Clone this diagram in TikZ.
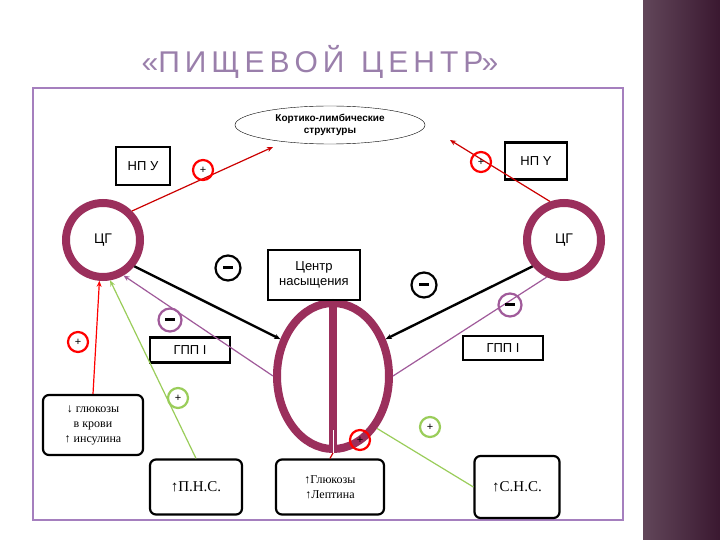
\documentclass[tikz,border=0pt]{standalone}
\usepackage{fontspec}
\setmainfont{Liberation Sans}
\newfontfamily\serifF{Liberation Serif}
\usetikzlibrary{shapes.geometric,arrows.meta}
\definecolor{maroon}{HTML}{9B2F5C}
\definecolor{frame}{HTML}{A57FBE}
\definecolor{sidebar}{HTML}{3A1830}
\definecolor{gline}{HTML}{9ACD5A}
\definecolor{pline}{HTML}{A05A9A}
\newcommand{\mybar}{\rule[0.3ex]{10pt}{3pt}}
\begin{document}
\begin{tikzpicture}[x=1pt,y=-1pt,
  box/.style={draw,line width=2.2pt,inner sep=0pt,font=\fontsize{13}{15}\selectfont},
  rbox/.style={draw,line width=2.2pt,rounded corners=6pt,align=center,inner sep=0pt,font=\serifF\fontsize{12}{15}\selectfont},
  ring/.style={circle,draw=maroon,line width=8pt,minimum size=74pt,font=\fontsize{14}{16}\selectfont},
  sign/.style={circle,draw,line width=2.2pt,minimum size=20pt,inner sep=0pt,font=\fontsize{11}{11}\selectfont},
  rpos/.style={sign,draw=red},
  gpos/.style={sign,draw=gline},
  neg/.style={sign,draw=black,minimum size=25pt},
  pneg/.style={sign,draw=pline,minimum size=23pt},
  arr/.style={-{Stealth[length=6pt,width=5pt]}}]
\useasboundingbox (0,0) rectangle (720,540);
\fill[white] (0,0) rectangle (720,540);
\shade[left color=sidebar!80,right color=sidebar] (643,0) rectangle (720,540);
\node[font=\fontsize{30}{32}\selectfont,text=frame!70!gray] (title) at (320,62) {«П\,И\,Щ\,Е\,В\,О\,Й\;\;Ц\,Е\,Н\,Т\,Р»};
\draw[frame,line width=2pt] (33,88) rectangle (623,520);
\node[ellipse,draw,thin,minimum width=190pt,minimum height=38pt,inner sep=0pt,align=center,font=\bfseries\fontsize{10}{12}\selectfont] (kls) at (330,125) {Кортико-лимбические\\структуры};
\node[box,minimum width=54pt,minimum height=38pt] (npl) at (143,166) {НП У};
\node[box,minimum width=62pt,minimum height=37pt] (npr) at (536,161) {НП Y};
\node[ring] (cgl) at (103,240) {ЦГ};
\node[ring] (cgr) at (564,240) {ЦГ};
\node[ellipse,draw=maroon,line width=8pt,minimum width=112pt,minimum height=146pt] (cc) at (333,376) {};
\draw[maroon,line width=8pt] (cc.north) -- (cc.south);
\draw[white,line width=1pt] (333,430) -- (cc.south);
\node[box,minimum width=92pt,minimum height=50pt,align=center] (cn) at (314,275) {Центр\\насыщения};
\node[box,minimum width=80pt,minimum height=25pt] (gl) at (190,350) {ГПП I};
\node[box,minimum width=80pt,minimum height=24pt] (gr) at (503,348) {ГПП I};
\node[rbox,minimum width=100pt,minimum height=60pt] (glu) at (93,425) {↓ глюкозы\\в крови\\↑ инсулина};
\node[rbox,minimum width=92pt,minimum height=55pt,font=\serifF\fontsize{15}{17}\selectfont] (pns) at (196,487) {↑П.Н.С.};
\node[rbox,minimum width=108pt,minimum height=55pt] (gll) at (330,487) {↑Глюкозы\\↑Лептина};
\node[rbox,minimum width=85pt,minimum height=62pt,font=\serifF\fontsize{15}{17}\selectfont] (sns) at (517,487) {↑С.Н.С.};
% connectors
\draw[red!80!black,line width=1.2pt,arr] (cgl.45) -- (273,147);
\draw[red!80!black,line width=1.2pt,arr] (cgr.110) -- (450,140);
\draw[black,line width=2.4pt,arr] (cgl.-40) -- (cc.145);
\draw[black,line width=2.4pt,arr] (cgr.-140) -- (cc.35);
\draw[pline,line width=1.2pt,arr] (cc.180) -- (cgl.-60);
\draw[pline,line width=1.2pt] (cgr.-115) -- (cc.0);
\draw[red,line width=1.2pt,arr] (glu.north) -- (cgl.-95);
\draw[gline,line width=1.2pt,arr] (pns.north) -- (cgl.-80);
\draw[gline,line width=1.2pt] (sns.west) -- (cc.-50);
\draw[red!80!black,line width=1.2pt] (gll.north) -- (cc.south);
% signs
\node[rpos] (p1) at (203,170) {+};
\node[rpos] (p2) at (481,162) {+};
\node[rpos] (p3) at (78,342) {+};
\node[gpos] (p4) at (178,398) {+};
\node[rpos] (p5) at (360,440) {+};
\node[gpos] (p6) at (430,427) {+};
\node[neg] (m1) at (228,268) {\mybar};
\node[neg] (m2) at (424,285) {\mybar};
\node[pneg] (m3) at (170,320) {\mybar};
\node[pneg] (m4) at (510,305) {\mybar};
\end{tikzpicture}
\end{document}
